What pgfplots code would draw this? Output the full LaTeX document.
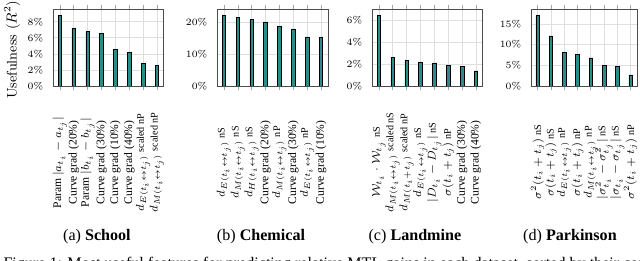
\documentclass[border=0pt]{standalone}
\usepackage{fontspec}
\newfontfamily\tms{Liberation Serif}
\usepackage{pgfplots}
\pgfplotsset{compat=1.18}
\definecolor{barcol}{RGB}{43,140,138}
\newcommand{\sfx}[1]{{\fontsize{6.3}{7}\selectfont #1}}
\pgfplotsset{panel/.style={
  width=68.9pt, height=47.8pt, scale only axis,
  ybar, bar width=2.2pt,
  xmin=-0.5, xmax=7.5, ymin=0,
  xtick={0,...,7},
  grid=major, grid style={gray!25, line width=0.4pt},
  axis line style={black!70, line width=0.5pt},
  tick align=outside,
  xtick style={draw=gray!70, line width=0.4pt}, major tick length=2.5pt,
  ytick style={draw=none},
  xticklabel style={font=\tms\fontsize{7.2}{8}\selectfont, rotate=90, anchor=center},
  xticklabel shift=45pt,
  yticklabel style={font=\fontsize{6}{7}\selectfont},
  yticklabel={$\pgfmathprintnumber{\tick}\%$},
  anchor=south west,
}}
\begin{document}
\begin{tikzpicture}
\path[use as bounding box] (0,0) rectangle (397.5pt,162.1pt);
% (a) School
\begin{axis}[panel, at={(32.9pt,108.7pt)}, ymax=9.58, ytick={0,2,4,6,8},
  ylabel={Usefulness ($R^2$)},
  ylabel style={font=\fontsize{8.6}{10}\selectfont, at={(axis description cs:-0.369,0.47)}, anchor=center, rotate=0},
  xticklabels={Param $|a_{t_i}-a_{t_j}|$, Curve grad (20\%), Param $|b_{t_i}-b_{t_j}|$, Curve grad (30\%), Curve grad (10\%), Curve grad (40\%), $d_{E(t_i\leftrightarrow t_j)}$ \sfx{scaled nP}, $d_{M(t_i\leftrightarrow t_j)}$ \sfx{scaled nP}}]
\addplot[fill=barcol, draw=black, line width=0.4pt] coordinates {(0,8.74) (1,7.18) (2,6.75) (3,6.50) (4,4.56) (5,4.14) (6,2.77) (7,2.61)};
\end{axis}
% (b) Chemical
\begin{axis}[panel, at={(134.8pt,108.7pt)}, ymax=24.3, ytick={0,10,20},
  xticklabels={$d_{E(t_i\leftrightarrow t_j)}$ \sfx{nS}, $d_{M(t_i\leftrightarrow t_j)}$ \sfx{nS}, $d_{H(t_i\leftrightarrow t_j)}$ \sfx{nS}, Curve grad (20\%), $d_{M(t_i\leftrightarrow t_j)}$ \sfx{nP}, Curve grad (30\%), $d_{E(t_i\leftrightarrow t_j)}$ \sfx{nP}, Curve grad (10\%)}]
\addplot[fill=barcol, draw=black, line width=0.4pt] coordinates {(0,22.2) (1,21.7) (2,21.0) (3,20.2) (4,18.8) (5,18.0) (6,15.5) (7,15.4)};
\end{axis}
% (c) Landmine
\begin{axis}[panel, at={(231.0pt,108.7pt)}, ymax=7.06, ytick={0,2,4,6},
  xticklabels={$\mathcal{W}_{t_i}\cdot\mathcal{W}_{t_j}$ \sfx{nS}, $d_{M(t_i\leftrightarrow t_j)}$ \sfx{scaled nS}, $d_{M(t_i+t_j)}$ \sfx{scaled nP}, $d_{E(t_i\leftrightarrow t_j)}$ \sfx{nS}, $|D_{t_i}-D_{t_j}|$ \sfx{nS}, $\sigma(t_i+t_j)$ \sfx{nP}, Curve grad (30\%), Curve grad (40\%)}]
\addplot[fill=barcol, draw=black, line width=0.4pt] coordinates {(0,6.45) (1,2.63) (2,2.36) (3,2.14) (4,2.11) (5,1.90) (6,1.83) (7,1.38)};
\end{axis}
% (d) Parkinson
\begin{axis}[panel, at={(329.8pt,108.7pt)}, width=66pt, ymax=18.6, ytick={0,5,10,15},
  xticklabels={$\sigma^2(t_i+t_j)$ \sfx{nS}, $\sigma(t_i+t_j)$ \sfx{nS}, $d_{E(t_i\leftrightarrow t_j)}$ \sfx{nP}, $\sigma(t_i+t_j)$ \sfx{nP}, $d_{M(t_i\leftrightarrow t_j)}$ \sfx{nP}, $|\sigma^2_{t_i}-\sigma^2_{t_j}|$ \sfx{nS}, $|\sigma_{t_i}-\sigma_{t_j}|$ \sfx{nS}, $\sigma^2(t_i+t_j)$ \sfx{nP}}]
\addplot[fill=barcol, draw=black, line width=0.4pt] coordinates {(0,16.98) (1,12.1) (2,8.1) (3,7.7) (4,6.76) (5,4.9) (6,4.66) (7,2.66)};
\end{axis}
\node[font=\tms\fontsize{10}{12}\selectfont] at (60.2pt,14.9pt) {(a) \textbf{School}};
\node[font=\tms\fontsize{10}{12}\selectfont] at (162.1pt,14.9pt) {(b) \textbf{Chemical}};
\node[font=\tms\fontsize{10}{12}\selectfont] at (257.7pt,14.9pt) {(c) \textbf{Landmine}};
\node[font=\tms\fontsize{10}{12}\selectfont] at (354.0pt,14.9pt) {(d) \textbf{Parkinson}};
\node[font=\tms\fontsize{10}{12}\selectfont, anchor=base west, inner sep=0pt] at (2pt,-4.8pt) {Figure 1: Most useful features for predicting relative MTL gains in each dataset, sorted by their contribution. We describe};
\end{tikzpicture}
\end{document}
